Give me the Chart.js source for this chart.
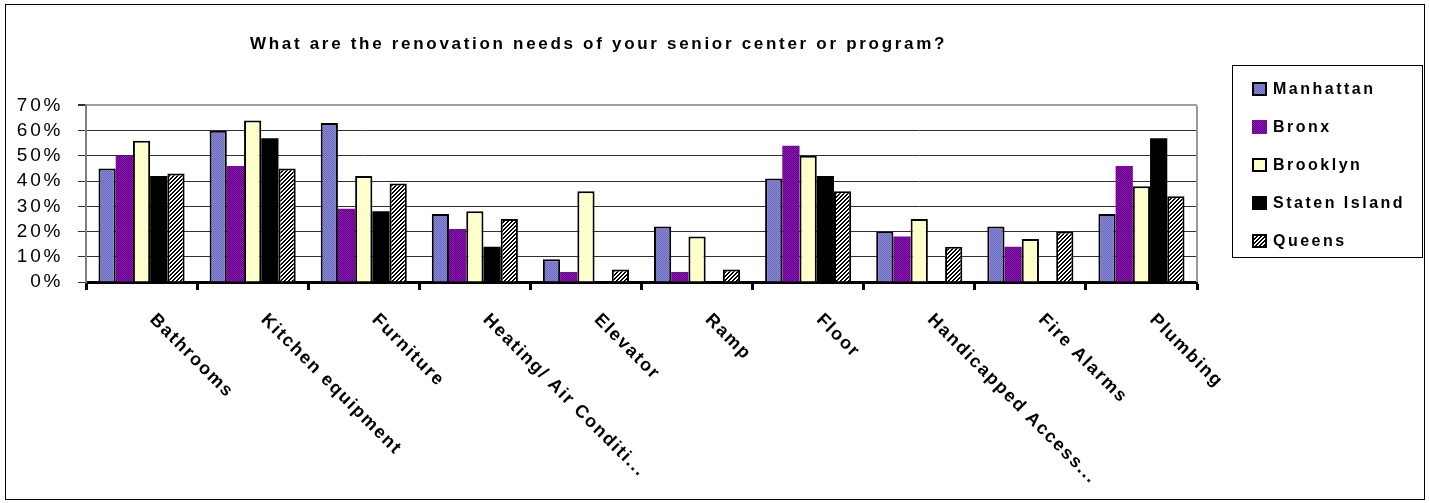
<!DOCTYPE html>
<html>
<head>
<meta charset="utf-8">
<style>
  html, body { margin: 0; padding: 0; background: #fff; }
  #wrap { width: 1429px; height: 503px; }
</style>
<script src="https://cdn.jsdelivr.net/npm/chart.js@4.4.1/dist/chart.umd.min.js"></script>
</head>
<body>
<div id="wrap"><canvas id="c" width="1429" height="503"></canvas></div>
<script>
const categories = ['Bathrooms', 'Kitchen equipment', 'Furniture', 'Heating/ Air Conditi...', 'Elevator',
  'Ramp', 'Floor', 'Handicapped Access...', 'Fire Alarms', 'Plumbing'];
const seriesNames = ['Manhattan', 'Bronx', 'Brooklyn', 'Staten Island', 'Queens'];
const manhattan = [45, 60, 63, 27, 9, 22, 41, 20, 22, 27];
const bronx = [50, 46, 29, 21, 4, 4, 54, 18, 14, 46];
const brooklyn = [56, 64, 42, 28, 36, 18, 50, 25, 17, 38];
const statenIsland = [42, 57, 28, 14, 0, 0, 42, 0, 0, 57];
const queens = [43, 45, 39, 25, 5, 5, 36, 14, 20, 34];
const yTicks = [0, 10, 20, 30, 40, 50, 60, 70];
const titleText = 'What are the renovation needs of your senior center or program?';

// little fill patterns like the old excel ones
function makePattern(size, pick) {
  const pc = document.createElement('canvas');
  pc.width = size; pc.height = size;
  const p = pc.getContext('2d');
  for (let y = 0; y < size; y++) {
    for (let x = 0; x < size; x++) {
      p.fillStyle = pick(x, y);
      p.fillRect(x, y, 1, 1);
    }
  }
  return p.createPattern(pc, 'repeat');
}
const ctx = document.getElementById('c').getContext('2d');
const manhattanFill = makePattern(2, (x, y) => (x + y) % 2 ? '#8a8ad6' : '#6a6abc');
const bronxFill = makePattern(2, (x, y) => (x + y) % 2 ? '#b01070' : '#3c00c8');
const queensFill = makePattern(4, (x, y) => (x + y) % 4 < 2 ? '#000' : '#fff');

const fills = [manhattanFill, bronxFill, '#ffffcc', '#000000', queensFill];
const borders = [2, 0, 2, 0, 2];
const values = [manhattan, bronx, brooklyn, statenIsland, queens];

const FONT = '"Liberation Sans", Arial, sans-serif';

const framePlugin = {
  id: 'frame',
  beforeDraw(chart) {
    chart.ctx.letterSpacing = '2.7px';
  },
  afterDraw(chart) {
    const c = chart.ctx;
    const area = chart.chartArea;
    const xs = chart.scales.x;
    c.save();
    // right border of the plot
    c.strokeStyle = '#999';
    c.lineWidth = 2;
    c.beginPath();
    c.moveTo(area.right, area.top);
    c.lineTo(area.right, area.bottom);
    c.stroke();

    // slanted category labels
    c.letterSpacing = '1.7px';
    c.font = 'bold 18px ' + FONT;
    c.fillStyle = '#000';
    c.textAlign = 'left';
    c.textBaseline = 'middle';
    categories.forEach((name, i) => {
      const x = xs.getPixelForValue(i);
      c.save();
      c.translate(x + 11, xs.top + 35);
      c.rotate(Math.PI / 4);
      c.fillText(name, 0, 0);
      c.restore();
    });

    // legend box
    c.letterSpacing = '2.5px';
    c.strokeStyle = '#000';
    c.lineWidth = 1;
    c.strokeRect(1232.5, 65.5, 190, 192);
    c.font = 'bold 16px ' + FONT;
    chart.data.datasets.forEach((ds, i) => {
      const cy = 89 + i * 38;
      c.fillStyle = ds.backgroundColor;
      c.fillRect(1252, cy - 7, 15, 14);
      if (ds.borderWidth) {
        c.strokeStyle = '#000';
        c.lineWidth = 2;
        c.strokeRect(1253, cy - 6, 13, 12);
      }
      c.fillStyle = '#000';
      c.fillText(ds.label, 1273, cy + 1);
    });

    // outer frame
    c.strokeStyle = '#000';
    c.lineWidth = 1;
    c.strokeRect(5.5, 4.5, 1419, 495);
    c.restore();
  }
};

new Chart(ctx, {
  type: 'bar',
  data: {
    labels: categories,
    datasets: seriesNames.map((name, i) => ({
      label: name,
      data: values[i],
      backgroundColor: fills[i],
      borderColor: '#000',
      borderWidth: borders[i],
      categoryPercentage: 0.775,
      barPercentage: 1.0
    }))
  },
  options: {
    responsive: false,
    animation: false,
    layout: { padding: { left: 0, right: 232, top: 0, bottom: 0 } },
    plugins: {
      legend: { display: false },
      tooltip: { enabled: false },
      title: {
        display: true,
        text: titleText,
        color: '#000',
        font: { family: FONT, size: 17, weight: 'bold', lineHeight: 1.2 },
        padding: { top: 34, bottom: 51 }
      }
    },
    scales: {
      x: {
        offset: true,
        grid: {
          offset: true,
          drawOnChartArea: false,
          drawTicks: true,
          tickLength: 8,
          tickWidth: 3,
          tickColor: '#000'
        },
        border: { color: '#000', width: 3 },
        ticks: { display: false },
        afterFit(scale) { scale.height = 221; }
      },
      y: {
        min: 0,
        max: 70,
        afterBuildTicks(scale) { scale.ticks = yTicks.map(v => ({ value: v })); },
        grid: {
          color: ctx => ctx.tick && ctx.tick.value === 70 ? '#a0a0a0' : '#303030',
          lineWidth: ctx => ctx.tick && ctx.tick.value === 70 ? 2 : 1,
          tickColor: '#303030',
          tickLength: 8
        },
        border: { color: '#808080', width: 2 },
        ticks: {
          color: '#000',
          padding: 15,
          autoSkip: false,
          font: { family: FONT, size: 19, lineHeight: 1 },
          callback: v => v + '%'
        },
        afterFit(scale) { scale.width = 86; }
      }
    }
  },
  plugins: [framePlugin]
});
</script>
</body>
</html>
